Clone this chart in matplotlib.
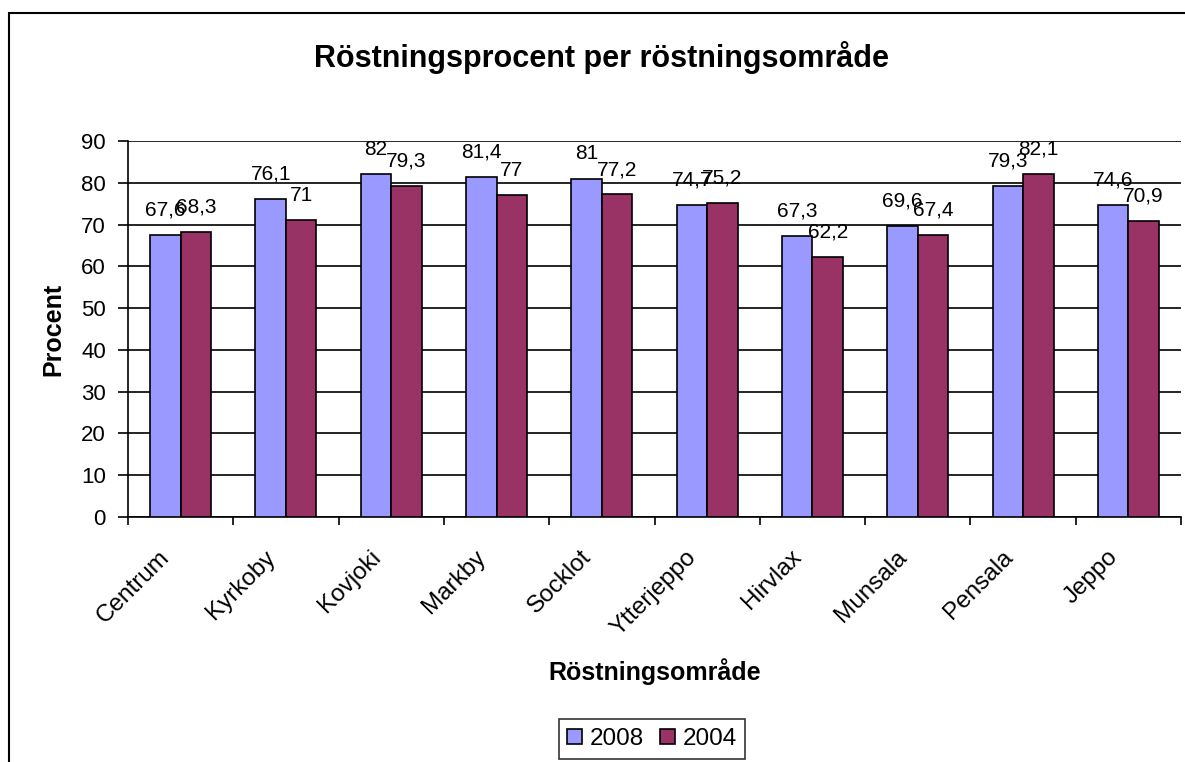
import matplotlib.pyplot as plt
import numpy as np
from matplotlib.patches import Rectangle
from matplotlib.transforms import ScaledTranslation

plt.rcParams['font.family'] = ['Liberation Sans', 'DejaVu Sans']

# Data
omraden = ["Centrum", "Kyrkoby", "Kovjoki", "Markby", "Socklot",
           "Ytterjeppo", "Hirvlax", "Munsala", "Pensala", "Jeppo"]
ar_2008 = [67.6, 76.1, 82, 81.4, 81, 74.7, 67.3, 69.6, 79.3, 74.6]
ar_2004 = [68.3, 71, 79.3, 77, 77.2, 75.2, 62.2, 67.4, 82.1, 70.9]
serier = ["2008", "2004"]
yticks = list(range(0, 91, 10))


def fmt(v):
    """Excel-style label with decimal comma"""
    return f"{v:g}".replace(".", ",")


W, H = 1185, 762
fig = plt.figure(figsize=(W / 100, H / 100), dpi=100)
ax = fig.add_axes([128 / W, 1 - 517 / H, (1181 - 128) / W, (517 - 141) / H])

# outer chart frame (runs off right and bottom like the original)
fig.patches.append(Rectangle((9 / W, -0.01), 1.02, 1 - 13 / H + 0.01,
                             transform=fig.transFigure, fill=False,
                             edgecolor="black", linewidth=1.5))

x = np.arange(len(omraden))
w = 0.29
b1 = ax.bar(x - w / 2, ar_2008, w, color="#9999FF", edgecolor="black",
            linewidth=1.2, label=serier[0], zorder=3)
b2 = ax.bar(x + w / 2, ar_2004, w, color="#993366", edgecolor="black",
            linewidth=1.2, label=serier[1], zorder=3)

for bars, vals in ((b1, ar_2008), (b2, ar_2004)):
    for r, v in zip(bars, vals):
        ax.annotate(fmt(v), (r.get_x() + r.get_width() / 2, v),
                    xytext=(0, 14), textcoords="offset points",
                    ha="center", va="baseline", fontsize=15, zorder=4)

ax.set_xlim(-0.5, len(omraden) - 0.5)
ax.set_ylim(0, 90)
ax.set_yticks(yticks)
ax.yaxis.grid(True, color="black", linewidth=1.2, zorder=0)
ax.set_axisbelow(True)
for s in ("top", "right"):
    ax.spines[s].set_visible(False)
for s in ("left", "bottom"):
    ax.spines[s].set_linewidth(1.2)

# category boundaries get the ticks, names sit at the centres
ax.set_xticks(np.arange(len(omraden) + 1) - 0.5)
ax.set_xticklabels([])
ax.set_xticks(x, minor=True)
ax.set_xticklabels(omraden, minor=True, rotation=45, ha="right", va="center",
                   rotation_mode="anchor", fontsize=17.5)
ax.tick_params(axis="x", which="minor", length=0, pad=0)
ax.tick_params(axis="x", which="major", length=6, width=1.2, direction="out")
ax.tick_params(axis="y", length=7, width=1.2, labelsize=16, pad=9)
shift = ScaledTranslation(-14 / 100, -37 / 100, fig.dpi_scale_trans)
for lbl in ax.get_xticklabels(minor=True):
    lbl.set_transform(lbl.get_transform() + shift)

fig.text(53 / W, 1 - 329 / H, "Procent", rotation=90, ha="center",
         va="center", fontsize=18, fontweight="bold")
fig.text(655 / W, 1 - 672 / H, "Röstningsområde", ha="center",
         va="center", fontsize=18, fontweight="bold")
fig.text(601 / W, 1 - 57 / H, "Röstningsprocent per röstningsområde",
         ha="center", va="center", fontsize=22, fontweight="bold")

leg = fig.legend(loc="center", bbox_to_anchor=(652 / W, 1 - 739 / H), ncol=2,
                 fontsize=17.5, frameon=True, fancybox=False,
                 edgecolor="black", handlelength=0.6, handleheight=0.6,
                 handletextpad=0.3, columnspacing=0.7, borderpad=0.35)
leg.get_frame().set_linewidth(1.2)

fig.savefig("out.png", dpi=100)
